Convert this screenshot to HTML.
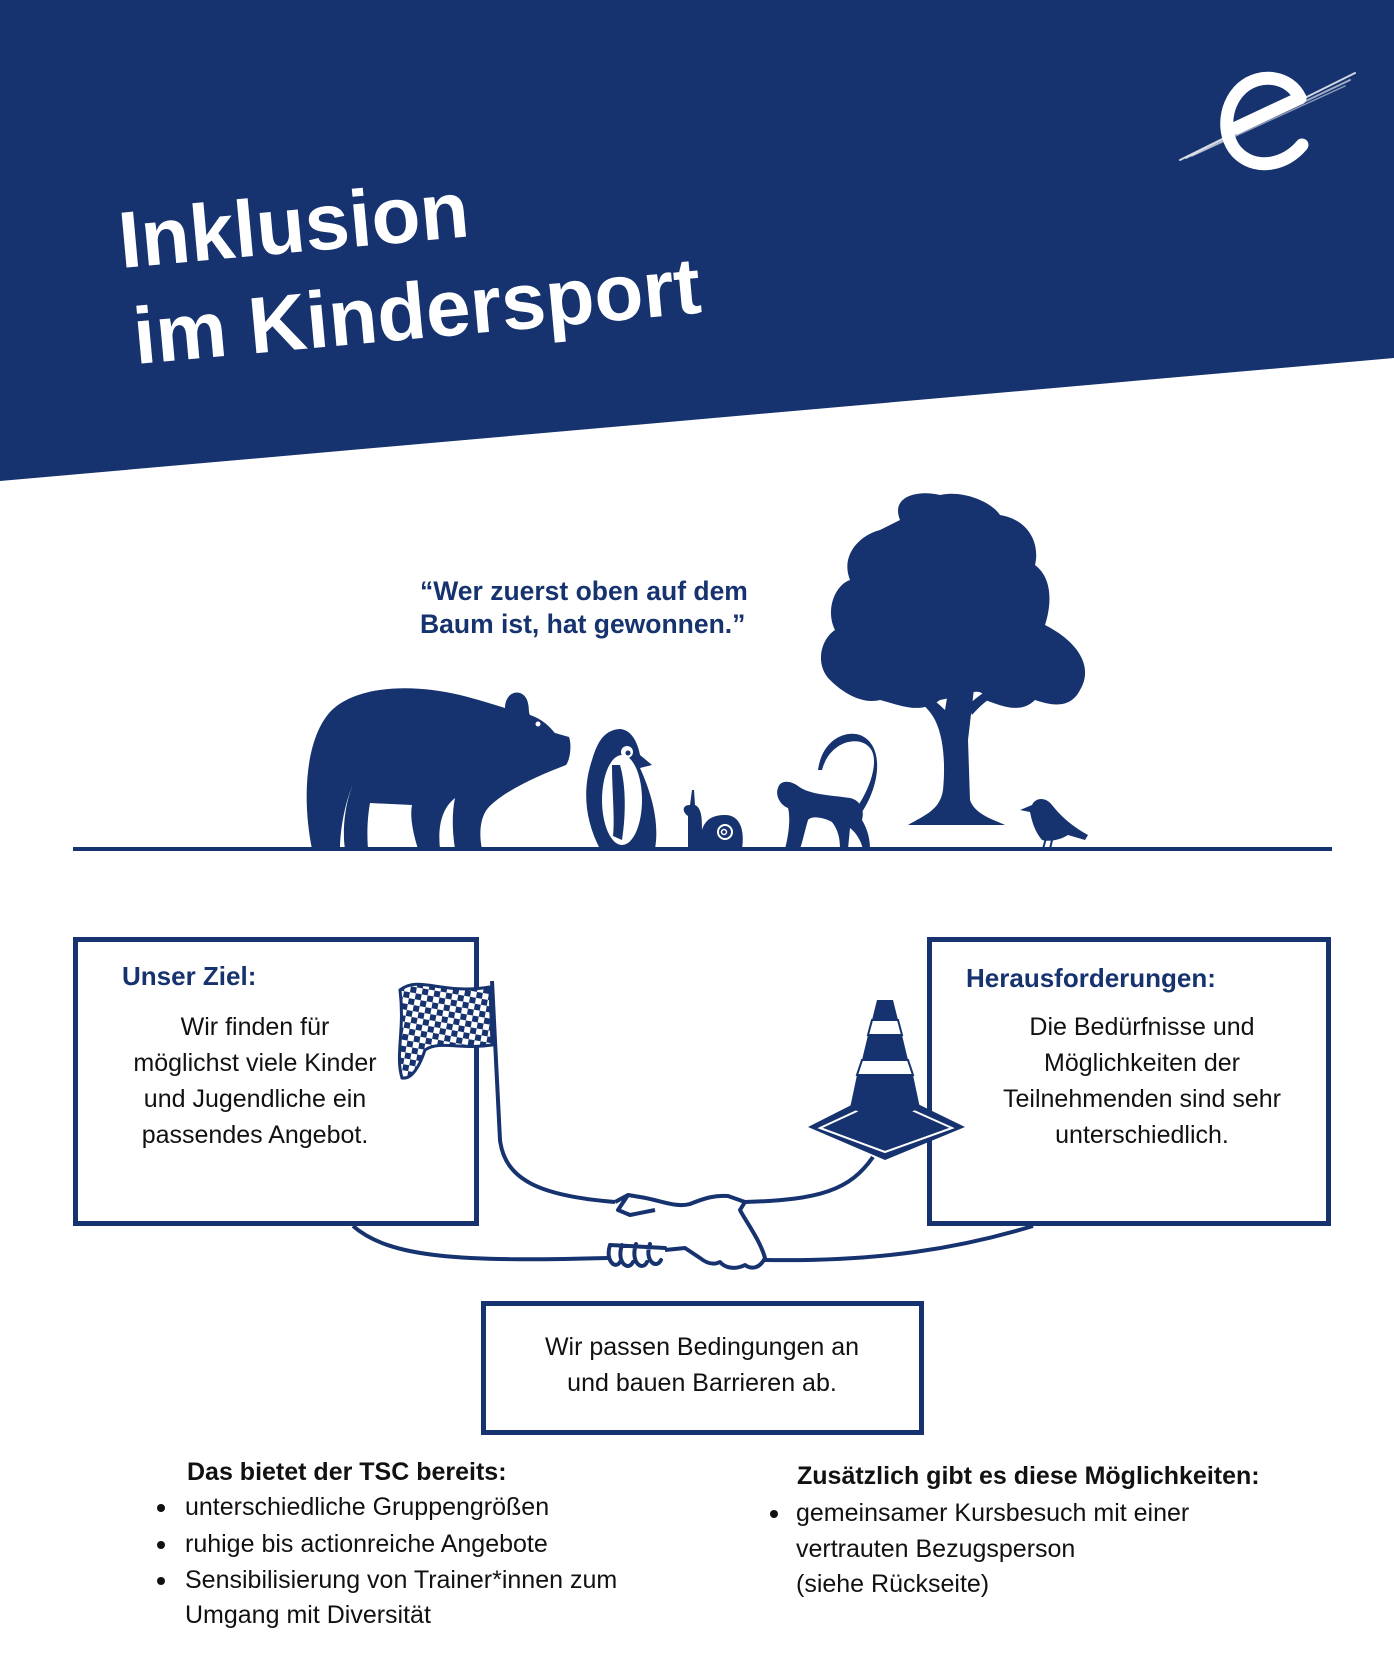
<!DOCTYPE html>
<html><head><meta charset="utf-8"><style>
html,body{margin:0;padding:0;background:#fff}
svg{display:block}
text{font-family:"Liberation Sans",sans-serif;fill:#16336f}
</style></head><body>
<svg width="1394" height="1654" viewBox="0 0 1394 1654" xmlns="http://www.w3.org/2000/svg">
<polygon points="0,0 1394,0 1394,358 0,481" fill="#16336f"/>
<g transform="rotate(-5.2 121 265)">
<text x="121" y="268" font-size="80" font-weight="bold" style="fill:#fff">Inklusion</text>
<text x="127" y="365" font-size="80" font-weight="bold" style="fill:#fff">im Kindersport</text>
</g>
<!-- logo -->
<g fill="none" stroke="#fff" stroke-linecap="round">
<path d="M1300,98 C1290,76 1260,72 1242,88 C1222,106 1222,140 1240,155 C1258,170 1285,165 1302,145" stroke-width="13"/>
<path d="M1236,128 L1300,98" stroke-width="13"/>
<path d="M1180,160 L1355,73" stroke-width="2" opacity="0.8"/>
<path d="M1186,158 L1350,80" stroke-width="2" opacity="0.6"/>
<path d="M1192,156 L1345,86" stroke-width="1.5" opacity="0.5"/>
</g>
<text x="420" y="600" font-size="26.5" font-weight="bold">“Wer zuerst oben auf dem</text>
<text x="420" y="633" font-size="26.5" font-weight="bold">Baum ist, hat gewonnen.”</text>
<!-- tree -->
<g fill="#16336f">
<path d="M900,520 C890,495 920,490 940,495 C960,490 990,500 1000,515 C1030,520 1040,545 1035,565 C1055,580 1050,610 1045,625 C1075,640 1095,665 1080,690 C1070,710 1050,705 1035,700 C1020,715 1000,705 985,700 C985,690 975,690 965,695 L940,700 C920,715 900,705 880,700 C860,705 840,690 830,680 C815,665 820,640 835,630 C825,610 835,585 850,580 C840,555 860,535 880,530 Z"/>
<path d="M950,680 L975,680 L968,740 L970,800 C975,815 995,820 1005,825 L908,825 C925,815 940,810 943,790 C945,770 945,740 935,720 C925,700 900,690 885,680 L895,675 C915,685 935,700 945,710 L950,680 Z"/>
<path d="M968,705 C985,690 1000,682 1015,678 L1018,684 C1000,690 985,700 972,715 Z"/>
</g>
<!-- bear -->
<g fill="#16336f">
<path d="M312,849 C302,800 305,740 330,712 C355,686 410,683 460,695 C480,700 495,705 505,708 C505,692 520,688 526,698 C530,705 528,712 530,715 C545,720 552,730 555,733 L569,737 C572,745 570,760 566,765 C540,775 505,790 488,808 C478,820 480,840 482,849 L455,849 C452,830 452,812 455,798 C440,810 438,830 440,849 L418,849 C412,830 410,815 412,805 L370,803 C367,820 367,836 368,849 L345,849 C342,830 345,800 355,780 C345,800 340,830 340,849 Z"/>
<circle cx="538" cy="724" r="2.5" fill="#fff"/>
</g>
<!-- penguin -->
<g fill="#16336f">
<path d="M600,849 C585,820 582,790 592,760 C598,740 605,730 620,729 C633,730 638,745 640,755 L652,765 L640,768 C650,790 660,820 655,849 Z"/>
<ellipse cx="622" cy="800" rx="20" ry="45" fill="#fff"/>
<circle cx="627" cy="752" r="6" fill="#fff"/>
<circle cx="628" cy="753" r="2.5"/>
<path d="M612,765 C612,790 615,820 613,836 L622,840 C626,815 626,785 620,765 Z"/>
</g>
<!-- snail -->
<g fill="#16336f">
<path d="M688,849 L688,816 C682,812 682,805 690,805 L692,790 L694,790 L695,805 C702,808 702,820 702,830 C705,820 712,815 725,815 C740,815 745,830 742,849 Z"/>
<circle cx="725" cy="832" r="7" fill="none" stroke="#fff" stroke-width="2"/>
<circle cx="724" cy="832" r="2.5" fill="none" stroke="#fff" stroke-width="1.5"/>
</g>
<!-- monkey -->
<g fill="#16336f">
<path d="M785,849 C790,830 790,815 788,808 C780,805 775,795 778,788 C780,780 790,780 798,786 C810,795 830,795 850,798 C860,800 865,810 862,820 C868,830 870,840 870,849 L863,849 C860,838 855,832 850,828 L848,849 L840,849 C840,838 838,830 832,822 C825,818 812,815 808,820 C805,830 803,840 800,849 Z"/>
<path d="M855,810 C870,790 880,760 870,748 C860,735 830,740 822,770 L818,770 C822,740 845,730 860,735 C885,745 880,785 862,812 Z"/>
</g>
<!-- bird -->
<g fill="#16336f">
<path d="M1020,810 L1032,805 C1035,798 1045,796 1052,805 C1060,815 1070,825 1088,835 L1085,840 L1068,835 C1060,840 1050,842 1042,840 C1035,832 1032,822 1030,812 Z"/>
<path d="M1046,838 L1043,849 M1052,840 L1050,849" stroke="#16336f" stroke-width="2"/>
</g>
<rect x="73" y="847" width="1259" height="4" fill="#16336f"/>
<!-- boxes -->
<g fill="none" stroke="#16336f" stroke-width="5">
<rect x="75.5" y="939.5" width="401" height="284"/>
<rect x="929.5" y="939.5" width="399" height="284"/>
<rect x="483.5" y="1303.5" width="438" height="129"/>
<path d="M492,981 L500,1140 C505,1180 540,1196 615,1202" stroke-width="4"/>
<path d="M873,1157 C850,1190 820,1200 745,1202" stroke-width="4"/>
<path d="M353,1226 C390,1258 460,1262 608,1258" stroke-width="4"/>
<path d="M1033,1226 C960,1248 880,1262 765,1260" stroke-width="4"/>
<path d="M615,1202 L628,1195 L640,1197 C660,1200 675,1208 690,1204 C705,1198 715,1195 728,1196 L745,1202 L740,1210 C745,1220 760,1240 765,1258 C760,1268 752,1270 745,1265 C735,1270 725,1268 720,1262 C712,1266 705,1262 700,1258 L685,1248 L665,1250 M628,1195 L618,1210 L630,1215 L655,1210" stroke-width="4" stroke-linejoin="round"/>
<path d="M610,1245 C605,1260 615,1270 620,1262 M622,1245 C616,1262 628,1272 633,1262 M636,1244 C630,1262 642,1272 647,1262 M650,1244 C644,1260 656,1270 661,1260 M610,1245 L665,1248" stroke-width="4" stroke-linecap="round"/>
</g>
<!-- flag -->
<defs><pattern id="ch" width="12" height="12" patternUnits="userSpaceOnUse" patternTransform="rotate(10)"><rect width="12" height="12" fill="#fff"/><rect width="6" height="6" fill="#16336f"/><rect x="6" y="6" width="6" height="6" fill="#16336f"/></pattern></defs>
<path d="M400,990 C420,975 440,995 490,987 L492,1045 C460,1050 440,1040 425,1050 C420,1065 412,1080 402,1078 C395,1055 405,1030 400,990 Z" fill="url(#ch)" stroke="#16336f" stroke-width="3"/>
<!-- cone -->
<g fill="#16336f">
<path d="M808,1127 L885,1088 L965,1127 L885,1160 Z"/>
<path d="M820,1128 L885,1098 L952,1128 L885,1152 Z" fill="none" stroke="#fff" stroke-width="2"/>
<path d="M877,1000 L893,1000 L898,1020 L872,1020 Z"/>
<path d="M868,1035 L902,1035 L908,1060 L862,1060 Z"/>
<path d="M857,1075 L913,1075 L920,1108 C900,1118 870,1118 850,1108 Z"/>
<path d="M872,1020 L898,1020 L902,1035 L868,1035 Z M862,1060 L908,1060 L913,1075 L857,1075 Z" fill="#fff" stroke="#16336f" stroke-width="2"/>
</g>
<text x="122" y="985" font-size="26" font-weight="bold">Unser Ziel:</text>
<text x="966" y="987" font-size="26" font-weight="bold">Herausforderungen:</text>
<g font-size="25" text-anchor="middle" style="fill:#111">
<text x="255" y="1035" style="fill:#111">Wir finden für</text>
<text x="255" y="1071" style="fill:#111">möglichst viele Kinder</text>
<text x="255" y="1107" style="fill:#111">und Jugendliche ein</text>
<text x="255" y="1143" style="fill:#111">passendes Angebot.</text>
<text x="1142" y="1035" style="fill:#111">Die Bedürfnisse und</text>
<text x="1142" y="1071" style="fill:#111">Möglichkeiten der</text>
<text x="1142" y="1107" style="fill:#111">Teilnehmenden sind sehr</text>
<text x="1142" y="1143" style="fill:#111">unterschiedlich.</text>
<text x="702" y="1355" style="fill:#111">Wir passen Bedingungen an</text>
<text x="702" y="1391" style="fill:#111">und bauen Barrieren ab.</text>
</g>
<g font-size="25">
<text x="187" y="1480" font-weight="bold" style="fill:#111">Das bietet der TSC bereits:</text>
<text x="185" y="1515" style="fill:#111">unterschiedliche Gruppengrößen</text>
<text x="185" y="1552" style="fill:#111">ruhige bis actionreiche Angebote</text>
<text x="185" y="1588" style="fill:#111">Sensibilisierung von Trainer*innen zum</text>
<text x="185" y="1623" style="fill:#111">Umgang mit Diversität</text>
<text x="797" y="1484" font-weight="bold" style="fill:#111">Zusätzlich gibt es diese Möglichkeiten:</text>
<text x="796" y="1521" style="fill:#111">gemeinsamer Kursbesuch mit einer</text>
<text x="796" y="1557" style="fill:#111">vertrauten Bezugsperson</text>
<text x="796" y="1592" style="fill:#111">(siehe Rückseite)</text>
</g>
<g fill="#111"><circle cx="161" cy="1508" r="4"/><circle cx="161" cy="1545" r="4"/><circle cx="161" cy="1581" r="4"/><circle cx="774" cy="1514" r="4"/></g>
</svg>
</body></html>
